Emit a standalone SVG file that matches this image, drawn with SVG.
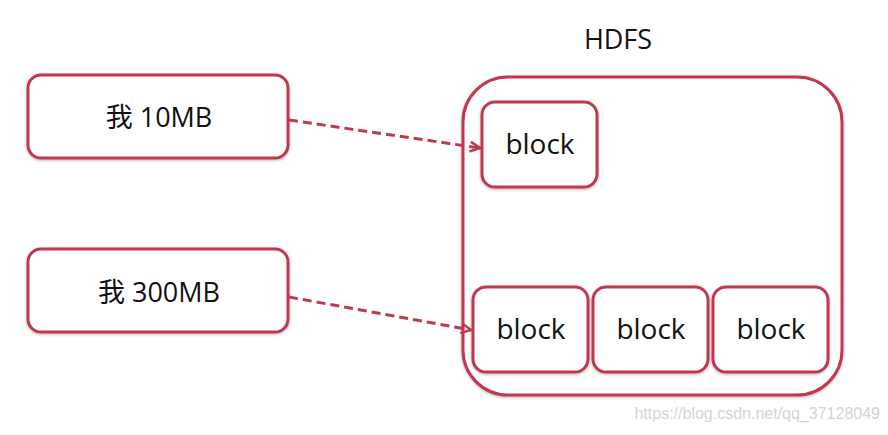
<svg xmlns="http://www.w3.org/2000/svg" width="888" height="435" viewBox="0 0 888 435">
<style>
.box{fill:#fff;stroke:#c0394f;stroke-width:3}
.t{font-family:"Open Sans","Noto Sans","Noto Sans CJK SC",sans-serif;fill:#111;text-anchor:middle;dominant-baseline:central}
.con{fill:none;stroke:#c0394f;stroke-width:3;stroke-dasharray:9 5}
</style>
<defs>
<marker id="arr" viewBox="0 0 12 12" refX="11" refY="6" markerWidth="12" markerHeight="12" markerUnits="userSpaceOnUse" orient="auto">
<path d="M1,1 L11,6 L1,11" fill="none" stroke="#c0394f" stroke-width="2.5"/>
</marker>
<filter id="sh" x="-10%" y="-10%" width="120%" height="120%"><feGaussianBlur in="SourceAlpha" stdDeviation="1.5"/><feOffset dx="0" dy="1"/><feComponentTransfer><feFuncA type="linear" slope="0.3"/></feComponentTransfer><feMerge><feMergeNode/><feMergeNode in="SourceGraphic"/></feMerge></filter>
</defs>
<rect width="888" height="435" fill="#fff"/>
<g id="hdfs">
<text class="t" x="618" y="38" font-size="27">HDFS</text>
<rect class="box" x="463" y="77" width="379" height="318" rx="45" filter="url(#sh)"/>
</g>
<g id="me10">
<rect class="box" x="28" y="75" width="260" height="83" rx="13" filter="url(#sh)"/>
<text class="t" x="159" y="116" font-size="27">我 10MB</text>
</g>
<g id="me300">
<rect class="box" x="28" y="249" width="260" height="83" rx="13" filter="url(#sh)"/>
<text class="t" x="159" y="291" font-size="27">我 300MB</text>
</g>
<g id="block1">
<rect class="box" x="482" y="102" width="115" height="85" rx="13" filter="url(#sh)"/>
<text class="t" x="540" y="143" font-size="28">block</text>
</g>
<g id="block2">
<rect class="box" x="473" y="287" width="115" height="85" rx="13" filter="url(#sh)"/>
<text class="t" x="531" y="328" font-size="28">block</text>
</g>
<g id="block3">
<rect class="box" x="593" y="287" width="115" height="85" rx="13" filter="url(#sh)"/>
<text class="t" x="651" y="328" font-size="28">block</text>
</g>
<g id="block4">
<rect class="box" x="713" y="287" width="115" height="85" rx="13" filter="url(#sh)"/>
<text class="t" x="771" y="328" font-size="28">block</text>
</g>
<g id="connectors">
<path class="con" d="M289,120 L480,148" marker-end="url(#arr)"/>
<path class="con" d="M289,297 L471,330" marker-end="url(#arr)"/>
</g>
<text x="880" y="413" font-family="Liberation Sans,Arial,sans-serif" font-size="16" fill="#d4d4d4" text-anchor="end" dominant-baseline="central">https://blog.csdn.net/qq_37128049</text>
</svg>
